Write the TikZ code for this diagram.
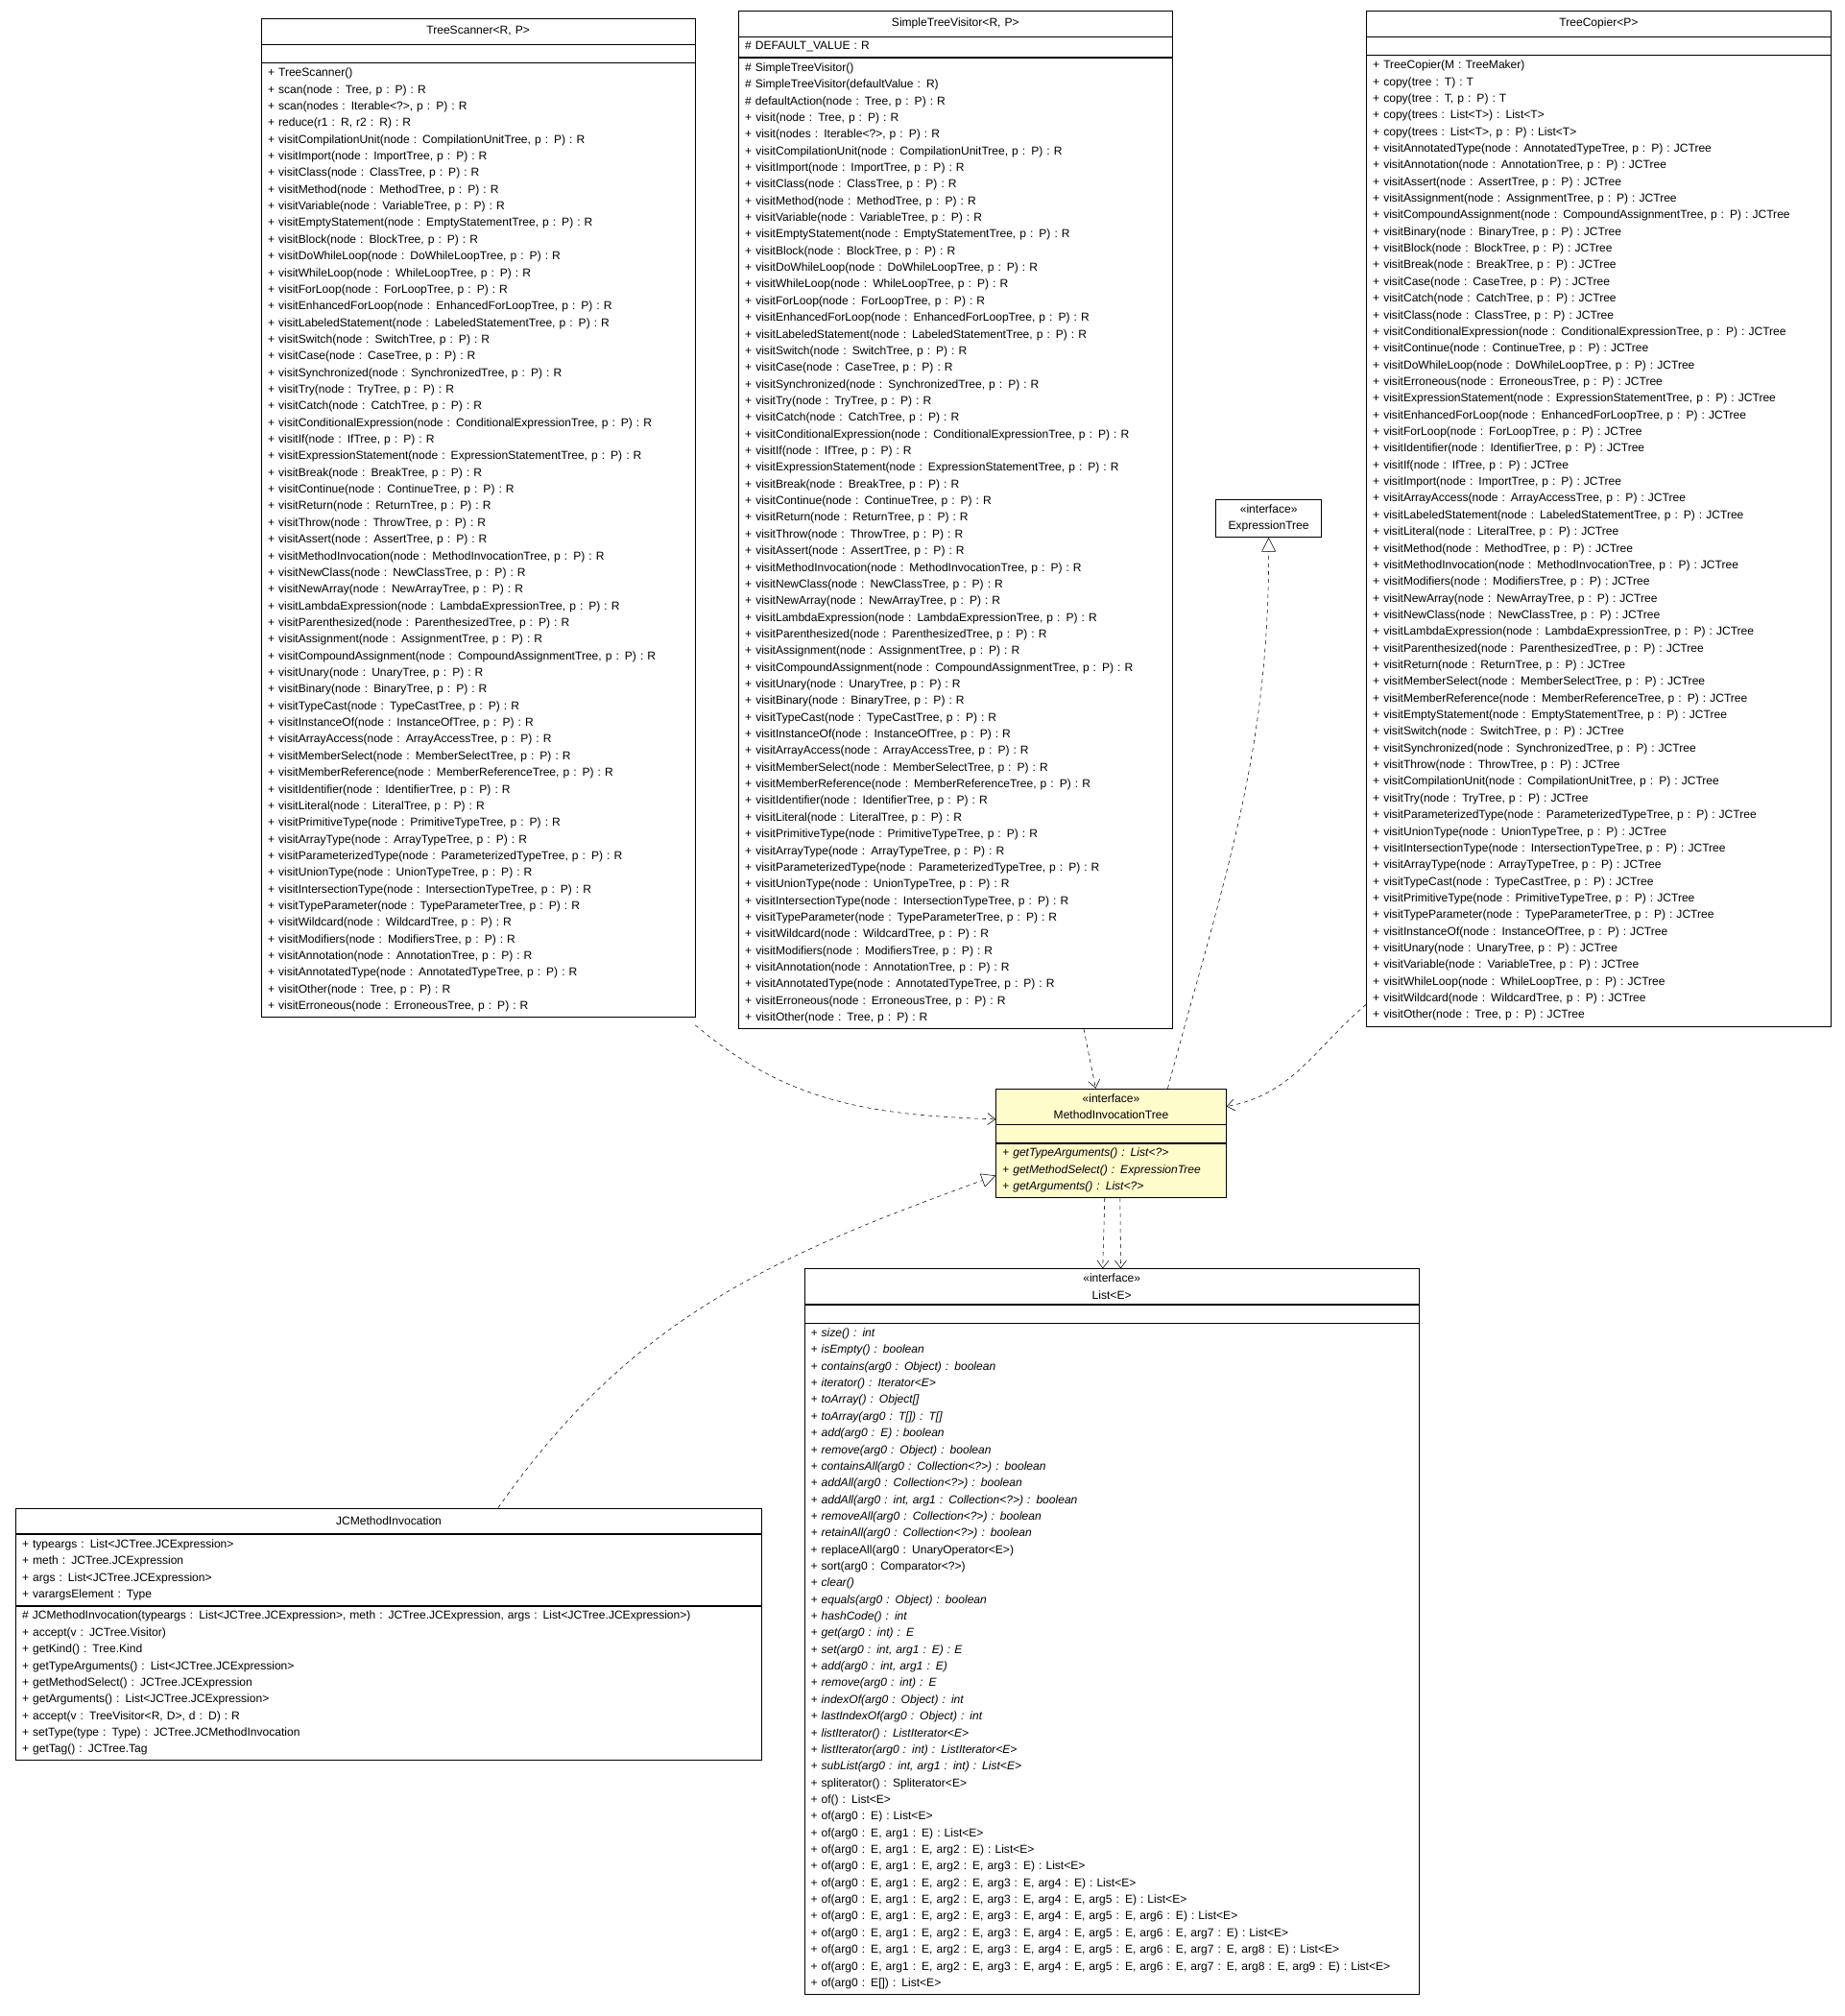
\documentclass[tikz,border=0pt]{standalone}
\usepackage{fontspec}
\setmainfont{Liberation Sans}
\usetikzlibrary{positioning,arrows.meta}
\newcommand\visR[1]{+ visit#1(node : #1Tree, p : P) : R}
\newcommand\visJ[1]{+ visit#1(node : #1Tree, p : P) : JCTree}
\tikzset{
  umlpart/.style={draw, fill=white, inner xsep=5pt, inner ysep=4pt, font=\fontsize{9}{12.95}\selectfont},
  umltitle/.style={umlpart, align=center, minimum height=20pt},
  umlempty/.style={umlpart, minimum height=14pt},
  umlops/.style={umlpart, align=left},
  dep/.style={draw, dashed, -{Straight Barb[length=6pt,width=9pt]}},
  impl/.style={draw, dashed, -{Triangle[open,length=11pt,width=11pt]}}
}
\begin{document}
\begin{tikzpicture}[x=1pt,y=-1pt]
\useasboundingbox (0,0) rectangle (1434,1567);

% TreeScanner
\node [umltitle, text width=327pt, anchor=north west] (ts) at (203,14) {TreeScanner<R, P>};
\node [umlempty, text width=327pt, below=0pt of ts] (tsa) {};
\node [umlops, text width=327pt, below=0pt of tsa] (tsm) {+ TreeScanner()\\
+ scan(node : Tree, p : P) : R\\
+ scan(nodes : Iterable<?>, p : P) : R\\
+ reduce(r1 : R, r2 : R) : R\\
\visR{CompilationUnit}\\ \visR{Import}\\ \visR{Class}\\ \visR{Method}\\ \visR{Variable}\\
\visR{EmptyStatement}\\ \visR{Block}\\ \visR{DoWhileLoop}\\ \visR{WhileLoop}\\ \visR{ForLoop}\\
\visR{EnhancedForLoop}\\ \visR{LabeledStatement}\\ \visR{Switch}\\ \visR{Case}\\ \visR{Synchronized}\\
\visR{Try}\\ \visR{Catch}\\ \visR{ConditionalExpression}\\ \visR{If}\\ \visR{ExpressionStatement}\\
\visR{Break}\\ \visR{Continue}\\ \visR{Return}\\ \visR{Throw}\\ \visR{Assert}\\
\visR{MethodInvocation}\\ \visR{NewClass}\\ \visR{NewArray}\\ \visR{LambdaExpression}\\ \visR{Parenthesized}\\
\visR{Assignment}\\ \visR{CompoundAssignment}\\ \visR{Unary}\\ \visR{Binary}\\ \visR{TypeCast}\\
\visR{InstanceOf}\\ \visR{ArrayAccess}\\ \visR{MemberSelect}\\ \visR{MemberReference}\\ \visR{Identifier}\\
\visR{Literal}\\ \visR{PrimitiveType}\\ \visR{ArrayType}\\ \visR{ParameterizedType}\\ \visR{UnionType}\\
\visR{IntersectionType}\\ \visR{TypeParameter}\\ \visR{Wildcard}\\ \visR{Modifiers}\\ \visR{Annotation}\\
\visR{AnnotatedType}\\
+ visitOther(node : Tree, p : P) : R\\
\visR{Erroneous}};

% SimpleTreeVisitor
\node [umltitle, text width=327pt, anchor=north west] (stv) at (574,8) {SimpleTreeVisitor<R, P>};
\node [umlops, text width=327pt, below=0pt of stv] (stva) {\# DEFAULT\_VALUE : R};
\node [umlops, text width=327pt, below=0pt of stva] (stvm) {\# SimpleTreeVisitor()\\
\# SimpleTreeVisitor(defaultValue : R)\\
\# defaultAction(node : Tree, p : P) : R\\
+ visit(node : Tree, p : P) : R\\
+ visit(nodes : Iterable<?>, p : P) : R\\
\visR{CompilationUnit}\\ \visR{Import}\\ \visR{Class}\\ \visR{Method}\\ \visR{Variable}\\
\visR{EmptyStatement}\\ \visR{Block}\\ \visR{DoWhileLoop}\\ \visR{WhileLoop}\\ \visR{ForLoop}\\
\visR{EnhancedForLoop}\\ \visR{LabeledStatement}\\ \visR{Switch}\\ \visR{Case}\\ \visR{Synchronized}\\
\visR{Try}\\ \visR{Catch}\\ \visR{ConditionalExpression}\\ \visR{If}\\ \visR{ExpressionStatement}\\
\visR{Break}\\ \visR{Continue}\\ \visR{Return}\\ \visR{Throw}\\ \visR{Assert}\\
\visR{MethodInvocation}\\ \visR{NewClass}\\ \visR{NewArray}\\ \visR{LambdaExpression}\\ \visR{Parenthesized}\\
\visR{Assignment}\\ \visR{CompoundAssignment}\\ \visR{Unary}\\ \visR{Binary}\\ \visR{TypeCast}\\
\visR{InstanceOf}\\ \visR{ArrayAccess}\\ \visR{MemberSelect}\\ \visR{MemberReference}\\ \visR{Identifier}\\
\visR{Literal}\\ \visR{PrimitiveType}\\ \visR{ArrayType}\\ \visR{ParameterizedType}\\ \visR{UnionType}\\
\visR{IntersectionType}\\ \visR{TypeParameter}\\ \visR{Wildcard}\\ \visR{Modifiers}\\ \visR{Annotation}\\
\visR{AnnotatedType}\\ \visR{Erroneous}\\
+ visitOther(node : Tree, p : P) : R};

% TreeCopier
\node [umltitle, text width=351pt, anchor=north west] (tc) at (1062,8) {TreeCopier<P>};
\node [umlempty, text width=351pt, below=0pt of tc] (tca) {};
\node [umlops, text width=351pt, below=0pt of tca] (tcm) {+ TreeCopier(M : TreeMaker)\\
+ copy(tree : T) : T\\
+ copy(tree : T, p : P) : T\\
+ copy(trees : List<T>) : List<T>\\
+ copy(trees : List<T>, p : P) : List<T>\\
\visJ{AnnotatedType}\\ \visJ{Annotation}\\ \visJ{Assert}\\ \visJ{Assignment}\\ \visJ{CompoundAssignment}\\
\visJ{Binary}\\ \visJ{Block}\\ \visJ{Break}\\ \visJ{Case}\\ \visJ{Catch}\\
\visJ{Class}\\ \visJ{ConditionalExpression}\\ \visJ{Continue}\\ \visJ{DoWhileLoop}\\ \visJ{Erroneous}\\
\visJ{ExpressionStatement}\\ \visJ{EnhancedForLoop}\\ \visJ{ForLoop}\\ \visJ{Identifier}\\ \visJ{If}\\
\visJ{Import}\\ \visJ{ArrayAccess}\\ \visJ{LabeledStatement}\\ \visJ{Literal}\\ \visJ{Method}\\
\visJ{MethodInvocation}\\ \visJ{Modifiers}\\ \visJ{NewArray}\\ \visJ{NewClass}\\ \visJ{LambdaExpression}\\
\visJ{Parenthesized}\\ \visJ{Return}\\ \visJ{MemberSelect}\\ \visJ{MemberReference}\\ \visJ{EmptyStatement}\\
\visJ{Switch}\\ \visJ{Synchronized}\\ \visJ{Throw}\\ \visJ{CompilationUnit}\\ \visJ{Try}\\
\visJ{ParameterizedType}\\ \visJ{UnionType}\\ \visJ{IntersectionType}\\ \visJ{ArrayType}\\ \visJ{TypeCast}\\
\visJ{PrimitiveType}\\ \visJ{TypeParameter}\\ \visJ{InstanceOf}\\ \visJ{Unary}\\ \visJ{Variable}\\
\visJ{WhileLoop}\\ \visJ{Wildcard}\\
+ visitOther(node : Tree, p : P) : JCTree};

% ExpressionTree
\node [umltitle, text width=72pt, anchor=north west] (et) at (945,388) {«interface»\\ExpressionTree};

% MethodInvocationTree
\node [umltitle, text width=169pt, fill=yellow!20, anchor=north west] (mit) at (774,846) {«interface»\\MethodInvocationTree};
\node [umlempty, text width=169pt, fill=yellow!20, below=0pt of mit] (mita) {};
\node [umlops, text width=169pt, fill=yellow!20, below=0pt of mita, font=\fontsize{9}{12.95}\selectfont\itshape] (mitm) {+ getTypeArguments() : List<?>\\
+ getMethodSelect() : ExpressionTree\\
+ getArguments() : List<?>};

% List<E>
\node [umltitle, text width=468pt, anchor=north west] (lst) at (625,986) {«interface»\\List<E>};
\node [umlempty, text width=468pt, below=0pt of lst] (lsta) {};
\node [umlops, text width=468pt, below=0pt of lsta] (lstm) {\textit{+ size() : int}\\
\textit{+ isEmpty() : boolean}\\
\textit{+ contains(arg0 : Object) : boolean}\\
\textit{+ iterator() : Iterator<E>}\\
\textit{+ toArray() : Object[]}\\
\textit{+ toArray(arg0 : T[]) : T[]}\\
\textit{+ add(arg0 : E) : boolean}\\
\textit{+ remove(arg0 : Object) : boolean}\\
\textit{+ containsAll(arg0 : Collection<?>) : boolean}\\
\textit{+ addAll(arg0 : Collection<?>) : boolean}\\
\textit{+ addAll(arg0 : int, arg1 : Collection<?>) : boolean}\\
\textit{+ removeAll(arg0 : Collection<?>) : boolean}\\
\textit{+ retainAll(arg0 : Collection<?>) : boolean}\\
+ replaceAll(arg0 : UnaryOperator<E>)\\
+ sort(arg0 : Comparator<?>)\\
\textit{+ clear()}\\
\textit{+ equals(arg0 : Object) : boolean}\\
\textit{+ hashCode() : int}\\
\textit{+ get(arg0 : int) : E}\\
\textit{+ set(arg0 : int, arg1 : E) : E}\\
\textit{+ add(arg0 : int, arg1 : E)}\\
\textit{+ remove(arg0 : int) : E}\\
\textit{+ indexOf(arg0 : Object) : int}\\
\textit{+ lastIndexOf(arg0 : Object) : int}\\
\textit{+ listIterator() : ListIterator<E>}\\
\textit{+ listIterator(arg0 : int) : ListIterator<E>}\\
\textit{+ subList(arg0 : int, arg1 : int) : List<E>}\\
+ spliterator() : Spliterator<E>\\
+ of() : List<E>\\
+ of(arg0 : E) : List<E>\\
+ of(arg0 : E, arg1 : E) : List<E>\\
+ of(arg0 : E, arg1 : E, arg2 : E) : List<E>\\
+ of(arg0 : E, arg1 : E, arg2 : E, arg3 : E) : List<E>\\
+ of(arg0 : E, arg1 : E, arg2 : E, arg3 : E, arg4 : E) : List<E>\\
+ of(arg0 : E, arg1 : E, arg2 : E, arg3 : E, arg4 : E, arg5 : E) : List<E>\\
+ of(arg0 : E, arg1 : E, arg2 : E, arg3 : E, arg4 : E, arg5 : E, arg6 : E) : List<E>\\
+ of(arg0 : E, arg1 : E, arg2 : E, arg3 : E, arg4 : E, arg5 : E, arg6 : E, arg7 : E) : List<E>\\
+ of(arg0 : E, arg1 : E, arg2 : E, arg3 : E, arg4 : E, arg5 : E, arg6 : E, arg7 : E, arg8 : E) : List<E>\\
+ of(arg0 : E, arg1 : E, arg2 : E, arg3 : E, arg4 : E, arg5 : E, arg6 : E, arg7 : E, arg8 : E, arg9 : E) : List<E>\\
+ of(arg0 : E[]) : List<E>};

% JCMethodInvocation
\node [umltitle, text width=570pt, anchor=north west] (jc) at (12,1172) {JCMethodInvocation};
\node [umlops, text width=570pt, below=0pt of jc] (jca) {+ typeargs : List<JCTree.JCExpression>\\
+ meth : JCTree.JCExpression\\
+ args : List<JCTree.JCExpression>\\
+ varargsElement : Type};
\node [umlops, text width=570pt, below=0pt of jca] (jcm) {\# JCMethodInvocation(typeargs : List<JCTree.JCExpression>, meth : JCTree.JCExpression, args : List<JCTree.JCExpression>)\\
+ accept(v : JCTree.Visitor)\\
+ getKind() : Tree.Kind\\
+ getTypeArguments() : List<JCTree.JCExpression>\\
+ getMethodSelect() : JCTree.JCExpression\\
+ getArguments() : List<JCTree.JCExpression>\\
+ accept(v : TreeVisitor<R, D>, d : D) : R\\
+ setType(type : Type) : JCTree.JCMethodInvocation\\
+ getTag() : JCTree.Tag};

% connectors
\path [dep] ([yshift=-6pt]tsm.south east) to [out=-40, in=178] ([yshift=4pt]mit.south west);
\path [dep] ([xshift=-69pt]stvm.south east) to ([xshift=-12pt]mit.north);
\path [dep] ([yshift=17pt]tcm.south west) to [out=-140, in=10] (mit.east);
\path [impl] ([xshift=44pt]mit.north) to [out=75, in=-90] (et.south);
\path [impl] ([xshift=85pt]jc.north) to [out=55, in=200] ([yshift=-4pt]mitm.west);
\path [dep] ([xshift=-5pt]mitm.south) to ([xshift=-7pt]lst.north);
\path [dep] ([xshift=7pt]mitm.south) to ([xshift=7pt]lst.north);
\end{tikzpicture}
\end{document}
